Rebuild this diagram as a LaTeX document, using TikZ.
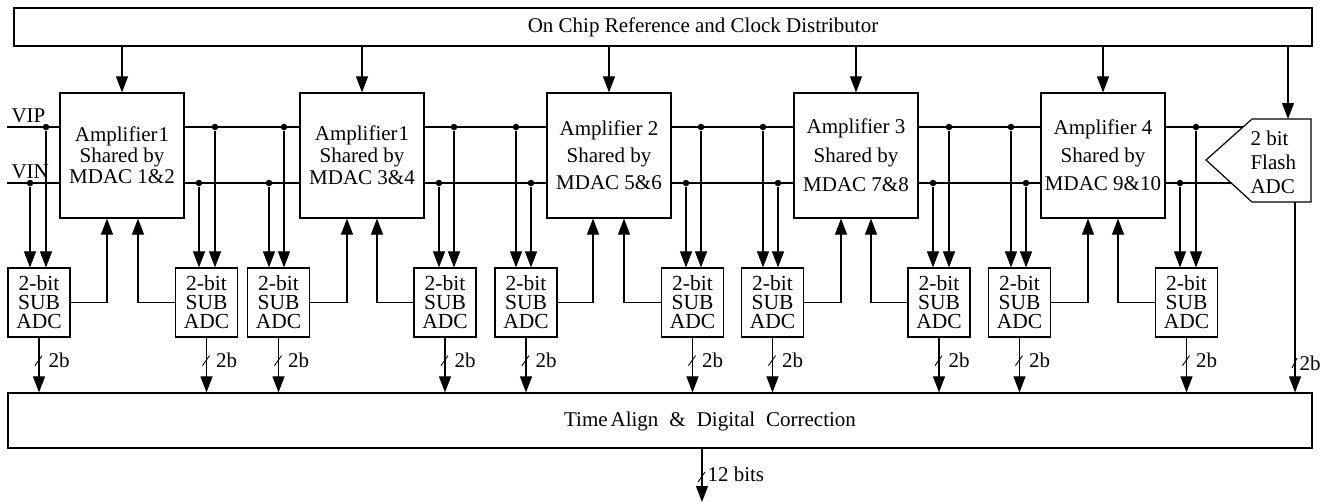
\documentclass[tikz,border=0pt]{standalone}
\usepackage{fontspec}
\setmainfont{Liberation Serif}
\usetikzlibrary{arrows.meta}
\begin{document}
\begin{tikzpicture}[x=1pt,y=-1pt,
  line width=1.1pt,
  >={Triangle[length=16pt,width=12pt]},
  box/.style={draw, line width=1.2pt, inner sep=0pt, align=center, font=\fontsize{21}{21}\selectfont},
  amp/.style={box, minimum width=124pt, minimum height=125pt},
  sub/.style={box, minimum width=62pt, minimum height=69pt, font=\fontsize{21.5}{19}\selectfont},
  dot/.style={circle, fill, inner sep=0pt, minimum size=6.5pt},
  lbl/.style={font=\fontsize{21}{21}\selectfont, inner sep=0pt},
]
\useasboundingbox (0,0) rectangle (1330,503);

% top distributor
\node[box, minimum width=1298pt, minimum height=38pt] (ref) at (663,27) {};
\node[lbl] (reftext) at (703,27) {On Chip Reference and Clock Distributor};

% amplifiers
\node[amp] (A1) at (122,155.5) {Amplifier\kern1pt 1\\Shared by\\MDAC 1\&2};
\node[amp, font=\fontsize{21}{22}\selectfont] (A2) at (362,155.5) {Amplifier\kern1pt 1\\Shared by\\MDAC 3\&4};
\node[amp, font=\fontsize{21}{27}\selectfont] (A3) at (609,155.5) {Amplifier 2\\Shared by\\MDAC 5\&6};
\node[amp, font=\fontsize{21}{29}\selectfont] (A4) at (856,155.5) {Amplifier 3\\Shared by\\MDAC 7\&8};
\node[amp, font=\fontsize{21}{28}\selectfont] (A5) at (1103,155.5) {Amplifier 4\\Shared by\\MDAC 9\&10};

% flash ADC
\draw[line width=1.2pt] (1206,160) -- (1252,119) -- (1311,119) -- (1311,202) -- (1252,202) -- cycle;
\node[lbl, align=left, anchor=west, font=\fontsize{21}{24}\selectfont] (flash) at (1250,162) {2 bit\\Flash\\ADC};
\coordinate (fT) at (1288,119);
\coordinate (fO) at (1295,202);
\coordinate (fVIP) at (1243,127);
\coordinate (fVIN) at (1231,183);

% sub ADCs
\foreach \x [count=\i] in {39,206.5,278.5,445,526,692.5,772.5,939,1019.5,1186.5}
  \node[sub] (S\i) at (\x,302.5) {2-bit\\SUB\\ADC};

% time align box
\node[box, minimum width=1304pt, minimum height=55pt] (tac) at (660,420.5) {};
\node[lbl] (tactext) at (710,421) {Time\hspace{3pt}Align\hspace{11pt}\&\hspace{11pt}Digital\hspace{11pt}Correction};

% clock arrows
\foreach \a in {A1,A2,A3,A4,A5}
  \draw[->] (ref.south -| \a.north) -- (\a.north);
\draw[->] (ref.south -| fT) -- (fT);

% input signal lines
\coordinate (vipIn) at (7,127);
\coordinate (vinIn) at (7,183);
\node[lbl, anchor=base west] (vip) at (11,122) {VIP};
\node[lbl, anchor=base west] (vin) at (11,178) {VIN};
\draw (vipIn) -- (vipIn -| A1.west);
\draw (vinIn) -- (vinIn -| A1.west);
\draw (A1.east |- vipIn) -- (A2.west |- vipIn);
\draw (A1.east |- vinIn) -- (A2.west |- vinIn);
\draw (A2.east |- vipIn) -- (A3.west |- vipIn);
\draw (A2.east |- vinIn) -- (A3.west |- vinIn);
\draw (A3.east |- vipIn) -- (A4.west |- vipIn);
\draw (A3.east |- vinIn) -- (A4.west |- vinIn);
\draw (A4.east |- vipIn) -- (A5.west |- vipIn);
\draw (A4.east |- vinIn) -- (A5.west |- vinIn);
\draw (A5.east |- vipIn) -- (fVIP);
\draw (A5.east |- vinIn) -- (fVIN);

% taps down to the sub ADCs
\foreach \x/\s in {46/S1,215/S2,284/S3,454/S4,516/S5,701/S6,763/S7,949/S8,1011/S9,1196/S10} {
  \node[dot] (vp\s) at (\x,127) {};
  \draw[->] (vp\s) -- (vp\s |- \s.north);
}
\foreach \x/\s in {30/S1,199/S2,269/S3,439/S4,531/S5,686/S6,778/S7,933/S8,1026/S9,1180/S10} {
  \node[dot] (vn\s) at (\x,183) {};
  \draw[->] (vn\s) -- (vn\s |- \s.north);
}

% feedback to amplifiers
\draw[->] (S1.east) -| ([xshift=-15pt]A1.south);
\draw[->] (S2.west) -| ([xshift=16pt]A1.south);
\draw[->] (S3.east) -| ([xshift=-15pt]A2.south);
\draw[->] (S4.west) -| ([xshift=15pt]A2.south);
\draw[->] (S5.east) -| ([xshift=-16pt]A3.south);
\draw[->] (S6.west) -| ([xshift=15pt]A3.south);
\draw[->] (S7.east) -| ([xshift=-15pt]A4.south);
\draw[->] (S8.west) -| ([xshift=15pt]A4.south);
\draw[->] (S9.east) -| ([xshift=-15pt]A5.south);
\draw[->] (S10.west) -| ([xshift=15pt]A5.south);

% outputs of sub ADCs
\foreach \i in {1,...,10} {
  \draw[->] (S\i.south) -- (S\i.south |- tac.north);
  \draw[line width=0.9pt] ([shift={(-4,28)}]S\i.south) -- ([shift={(3,18)}]S\i.south);
  \node[lbl, anchor=west] (b\i) at ([shift={(9,23)}]S\i.south) {2b};
}
\draw[->] (fO) -- (fO |- tac.north);
\draw[line width=0.9pt] ([shift={(-3,166)}]fO) -- ([shift={(2,156)}]fO);
\node[lbl, anchor=west] (bf) at ([shift={(4,161)}]fO) {2b};

% final output
\coordinate (out) at (702,502);
\draw[->] (tac.south -| out) -- (out);
\draw[line width=0.9pt] (698,482) -- (705,472);
\node[lbl, anchor=west] (bits) at (707,474) {12 bits};
\end{tikzpicture}
\end{document}
